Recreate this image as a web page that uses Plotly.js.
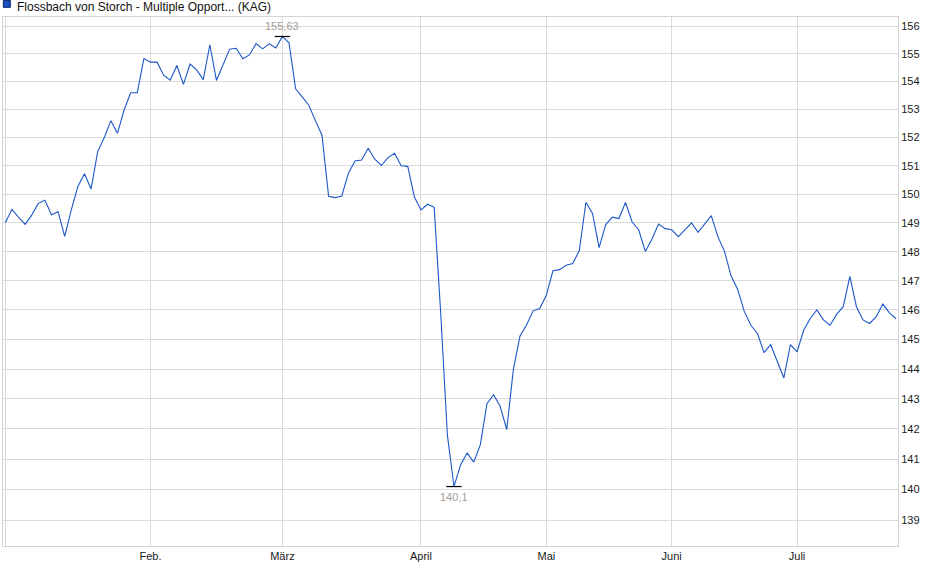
<!DOCTYPE html>
<html>
<head>
<meta charset="utf-8">
<script src="https://cdn.plot.ly/plotly-3.0.1.min.js"></script>
<style>
  html, body { margin: 0; padding: 0; background: #ffffff; }
  #chart { width: 940px; height: 579px; }
</style>
</head>
<body>
<div id="chart"></div>
<script>
// fund name shown in the legend line
var seriesName = 'Flossbach von Storch - Multiple Opport... (KAG)';

// daily prices, Jan 2 .. late July (one value per trading day)
var prices = [
  149.0, 149.47, 149.2, 148.95, 149.27, 149.68, 149.79, 149.28, 149.39, 148.53,
  149.45, 150.27, 150.72, 150.18, 151.5, 152.0, 152.6, 152.15, 152.98, 153.6,
  153.6, 154.83,
  154.7, 154.7, 154.23, 154.05, 154.58, 153.9, 154.63, 154.42, 154.07, 155.33,
  154.04, 154.58, 155.17, 155.2, 154.82, 154.96, 155.37, 155.18, 155.36, 155.21,
  155.63, 155.4, 153.74, 153.45, 153.15, 152.6, 152.08, 149.93, 149.88, 149.94,
  150.74, 151.17, 151.2, 151.62, 151.23, 151.01, 151.29, 151.44, 151.0, 150.98,
  149.9,
  149.45, 149.65, 149.54, 145.85, 141.8, 140.1, 140.81, 141.2, 140.9, 141.48,
  142.84, 143.14, 142.75, 141.98, 143.98, 145.11, 145.49, 145.97, 146.05,
  146.5, 147.34, 147.38, 147.53, 147.59, 148.04, 149.72, 149.33, 148.14, 148.94,
  149.2, 149.15, 149.71, 149.03, 148.76, 148.01, 148.43, 148.96, 148.8,
  148.76, 148.52, 148.76, 149.0, 148.67, 148.94, 149.25, 148.52, 148.01, 147.17,
  146.7, 145.95, 145.48, 145.2, 144.55, 144.82, 144.25, 143.7, 144.82,
  144.58, 145.31, 145.71, 146.0, 145.66, 145.48, 145.85, 146.11, 147.15, 146.11,
  145.66, 145.54, 145.77, 146.2, 145.9, 145.7
];

// first trading day of each month (position in prices) and its label
var monthStarts = [0, 22, 42, 63, 82, 101, 120];
var monthLabels = ['', 'Feb.', 'März', 'April', 'Mai', 'Juni', 'Juli'];

// price levels labelled on the right axis
var priceTicks = [139, 140, 141, 142, 143, 144, 145, 146, 147, 148, 149, 150, 151, 152, 153, 154, 155, 156];

var days = prices.map(function (p, i) { return i; });

var maxVal = Math.max.apply(null, prices);
var minVal = Math.min.apply(null, prices);
var maxIdx = prices.indexOf(maxVal);
var minIdx = prices.indexOf(minVal);

function deNumber(v) {
  return String(v).replace('.', ',');
}

var line = {
  x: days,
  y: prices,
  mode: 'lines',
  name: seriesName,
  showlegend: false,
  line: { color: '#1c57c8', width: 1.1 },
  hoverinfo: 'skip'
};

// small black dashes at the high and low
var extremes = {
  x: [maxIdx, minIdx],
  y: [maxVal, minVal],
  mode: 'markers',
  showlegend: false,
  marker: { symbol: 'line-ew', size: 11, line: { color: '#000000', width: 1.2 } },
  hoverinfo: 'skip'
};

var layout = {
  width: 940,
  height: 579,
  margin: { l: 3, r: 42, t: 17, b: 33 },
  paper_bgcolor: '#ffffff',
  plot_bgcolor: '#ffffff',
  font: { family: 'Liberation Sans, Arial, sans-serif', size: 11, color: '#1a1a1a' },
  showlegend: false,
  xaxis: {
    range: [-0.35, 135.3],
    tickmode: 'array',
    tickvals: monthStarts,
    ticktext: monthLabels,
    showgrid: true,
    gridcolor: '#dadada',
    gridwidth: 1,
    zeroline: false,
    showline: true,
    linecolor: '#d4d4d4',
    linewidth: 1,
    mirror: true,
    ticks: '',
    tickfont: { size: 11, color: '#1a1a1a' }
  },
  yaxis: {
    type: 'log',
    side: 'right',
    range: [2.140408, 2.194068],
    tickmode: 'array',
    tickvals: priceTicks,
    ticktext: priceTicks.map(String),
    showgrid: true,
    gridcolor: '#dadada',
    gridwidth: 1,
    zeroline: false,
    showline: true,
    linecolor: '#d4d4d4',
    linewidth: 1,
    mirror: true,
    ticks: '',
    tickfont: { size: 11, color: '#1a1a1a' }
  },
  shapes: [
    {
      type: 'rect',
      xref: 'paper', yref: 'paper',
      x0: 0.0004, x1: 0.0082,
      y0: 1.0183, y1: 1.0315,
      fillcolor: '#1c4fbf',
      line: { color: '#0b2563', width: 1 }
    }
  ],
  annotations: [
    {
      xref: 'paper', yref: 'paper',
      x: 0.0136, y: 1.0185,
      xanchor: 'left', yanchor: 'middle',
      text: seriesName,
      showarrow: false,
      font: { size: 12, color: '#111111' }
    },
    {
      x: maxIdx, y: Math.log10(maxVal),
      text: deNumber(maxVal),
      showarrow: false,
      yanchor: 'bottom',
      yshift: 2,
      font: { size: 11, color: '#a39d96' }
    },
    {
      x: minIdx, y: Math.log10(minVal),
      text: deNumber(minVal),
      showarrow: false,
      yanchor: 'top',
      yshift: -2,
      font: { size: 11, color: '#a39d96' }
    }
  ]
};

Plotly.newPlot('chart', [line, extremes], layout, { displayModeBar: false, staticPlot: true });
</script>
</body>
</html>
